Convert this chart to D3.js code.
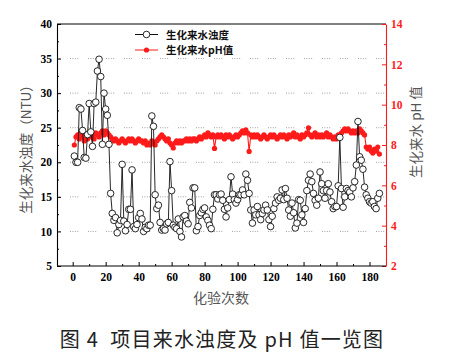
<!DOCTYPE html>
<html><head><meta charset="utf-8">
<script src="https://cdn.jsdelivr.net/npm/d3@7"></script>
<style>
body{margin:0;background:#fff;}
svg{display:block;}
</style></head>
<body>
<svg id="c" width="455" height="356"></svg>
<script>
// ---- data ----
const turbidity = [
 20.9,20.0,20.0,27.9,27.7,24.6,20.7,20.6,24.0,28.5,
 24.4,22.3,28.5,28.7,33.2,34.9,32.4,22.6,30.0,27.7,
 26.8,22.6,15.5,12.6,11.6,12.0,9.8,11.0,11.6,19.7,
 11.5,10.1,11.0,13.2,13.2,18.9,10.7,10.4,11.0,12.0,
 12.6,11.8,10.0,10.6,10.4,10.9,10.9,26.7,25.2,15.3,
 13.3,13.8,11.3,10.2,10.4,10.2,11.1,11.3,20.1,15.9,
 10.9,10.6,10.4,11.8,10.0,9.2,12.1,12.3,11.5,11.1,
 14.2,13.4,16.3,16.3,10.1,10.7,12.3,12.7,13.2,13.4,
 12.1,11.6,10.9,10.4,13.2,15.3,15.3,14.7,15.3,15.4,
 14.5,13.2,12.1,13.4,14.6,17.9,15.4,14.6,14.1,14.6,
 15.3,15.3,16.0,15.3,18.3,17.4,15.5,13.1,11.2,13.1,
 12.4,13.6,12.4,11.7,12.6,13.1,13.8,13.1,11.7,10.7,
 12.2,13.3,14.1,15.0,14.5,14.8,16.0,14.6,16.2,14.8,
 13.1,12.2,14.1,12.7,10.5,11.2,14.6,14.5,12.4,11.3,
 13.3,15.9,17.4,18.3,17.2,15.5,14.5,13.8,14.8,18.6,
 16.9,15.9,14.8,15.9,16.9,15.7,14.3,13.3,13.6,13.6,
 16.6,23.6,16.2,13.5,15.0,16.2,15.9,15.7,15.0,16.3,
 17.2,19.6,25.9,20.8,20.3,19.0,16.4,15.3,14.8,14.3,
 14.1,14.3,13.6,13.3,14.8,15.5
];
const ph = [
 8.0,8.4,8.5,8.3,8.6,8.4,8.2,8.5,8.3,8.6,
 8.4,8.5,8.3,8.6,8.5,8.4,8.6,8.7,8.5,8.7,
 8.6,8.5,8.4,8.3,8.2,8.3,8.2,8.1,8.2,8.3,
 8.2,8.1,8.2,8.3,8.2,8.3,8.2,8.1,8.2,8.3,
 8.2,8.2,8.1,8.2,8.0,8.1,8.0,8.2,8.1,8.0,
 8.2,8.3,8.4,8.5,8.4,8.3,8.2,8.3,8.1,8.0,
 7.85,8.1,8.2,8.1,8.2,8.1,8.2,8.2,8.3,8.2,
 8.3,8.2,8.3,8.3,8.2,8.3,8.4,8.3,8.4,8.5,
 8.4,8.6,8.5,8.4,8.5,7.83,8.4,8.5,8.4,8.5,
 8.4,8.3,8.5,8.4,8.5,8.4,8.3,8.4,8.5,8.4,
 8.5,8.6,8.7,8.6,8.75,8.6,7.68,8.5,8.4,8.5,
 8.4,8.5,8.4,8.3,8.4,8.5,8.4,8.3,8.4,8.5,
 8.4,8.5,8.4,8.3,8.4,8.5,8.4,8.5,8.4,8.3,
 8.5,8.4,8.5,8.6,8.4,8.5,8.4,8.3,8.5,8.4,
 8.5,8.6,8.85,8.5,8.4,8.5,8.6,8.4,8.5,8.4,
 8.5,8.4,8.5,8.6,8.4,8.5,8.4,8.3,8.4,8.3,
 8.5,8.4,8.6,8.7,8.8,8.7,8.8,8.7,8.6,8.7,
 8.6,8.7,8.6,8.8,8.7,8.6,8.5,7.9,7.8,7.9,
 7.7,7.6,7.8,7.7,7.9,7.55
];
const xTicks = [0,20,40,60,80,100,120,140,160,180];
const yLeftTicks = [5,10,15,20,25,30,35,40];
const yRightTicks = [2,4,6,8,10,12,14];
const gridValues = [10,15,20,25,30,35];
const legendLabels = ["生化来水浊度","生化来水pH值"];
const xTitle = "化验次数";
const yLeftTitle = "生化来水浊度（NTU）";
const yRightTitle = "生化来水 pH 值";
const caption = "图 4  项目来水浊度及 pH 值一览图";

// ---- layout ----
const L=57, R=386, T=24, B=266;
const RED="#ff1a1a";
const svg=d3.select("#c");
const x=d3.scaleLinear().domain([-10,190]).range([L-0.8,R]);
const yL=d3.scaleLinear().domain([5,40]).range([B,T]);
const yR=d3.scaleLinear().domain([2,14]).range([B,T]);
const serif="'Liberation Serif','Times New Roman',serif";
const cjk="'Noto Sans CJK SC','Noto Sans',sans-serif";

// grid
svg.append("g").selectAll("line").data(gridValues).join("line")
 .attr("x1",L).attr("x2",R).attr("y1",d=>yL(d)).attr("y2",d=>yL(d))
 .attr("stroke","#8a8a8a").attr("stroke-width",0.8)
 .attr("stroke-dasharray","1,1.4,1,1.4,1,1.4,1,9.8").attr("stroke-dashoffset",5);

// frame top
svg.append("line").attr("x1",L).attr("x2",R).attr("y1",T).attr("y2",T).attr("stroke","#000").attr("stroke-width",1);

// pH series
const lineR=d3.line().x((d,i)=>x(i+1)).y(d=>yR(d));
svg.append("path").datum(ph).attr("d",lineR).attr("fill","none").attr("stroke",RED).attr("stroke-width",1.1);
svg.append("g").selectAll("circle").data(ph).join("circle")
 .attr("cx",(d,i)=>x(i+1)).attr("cy",d=>yR(d)).attr("r",2.6).attr("fill",RED);

// turbidity series
const lineL=d3.line().x((d,i)=>x(i+1)).y(d=>yL(d));
svg.append("path").datum(turbidity).attr("d",lineL).attr("fill","none").attr("stroke","#111").attr("stroke-width",0.9);
svg.append("g").selectAll("circle").data(turbidity).join("circle")
 .attr("cx",(d,i)=>x(i+1)).attr("cy",d=>yL(d)).attr("r",3.3)
 .attr("fill","#fff").attr("stroke","#111").attr("stroke-width",0.9);

// axes
function styleAxis(g,color){
  g.attr("font-family",serif);
  g.select(".domain").attr("stroke",color).attr("stroke-width",1.1);
  g.selectAll(".tick line").attr("stroke",color);
  g.selectAll("text").attr("fill",color).attr("font-family",serif).attr("font-weight","bold").attr("font-size",11.5);
}
const axL=svg.append("g").attr("transform",`translate(${L},0)`)
 .call(d3.axisLeft(yL).tickValues(yLeftTicks).tickSize(-4).tickPadding(5).tickSizeOuter(0));
styleAxis(axL,"#000");
const axLm=svg.append("g").attr("transform",`translate(${L},0)`)
 .call(d3.axisLeft(yL).tickValues(yLeftTicks.slice(0,-1).map(d=>d+2.5)).tickSize(-2).tickFormat("").tickSizeOuter(0));
axLm.select(".domain").remove();

const axR=svg.append("g").attr("transform",`translate(${R},0)`)
 .call(d3.axisRight(yR).tickValues(yRightTicks).tickSize(-4).tickPadding(5).tickSizeOuter(0));
styleAxis(axR,RED);
const axRm=svg.append("g").attr("transform",`translate(${R},0)`)
 .call(d3.axisRight(yR).tickValues(yRightTicks.slice(0,-1).map(d=>d+1)).tickSize(-2).tickFormat("").tickSizeOuter(0));
axRm.select(".domain").remove(); axRm.selectAll("line").attr("stroke",RED);

const axB=svg.append("g").attr("transform",`translate(0,${B})`)
 .call(d3.axisBottom(x).tickValues(xTicks).tickSize(-4).tickPadding(7).tickSizeOuter(0));
styleAxis(axB,"#000");
axB.select(".domain").attr("d",`M${L},0H${R}`);
const axBm=svg.append("g").attr("transform",`translate(0,${B})`)
 .call(d3.axisBottom(x).tickValues(xTicks.map(d=>d+10).filter(d=>d<190)).tickSize(-2).tickFormat("").tickSizeOuter(0));
axBm.select(".domain").remove();

// legend
const lg=svg.append("g");
lg.append("line").attr("x1",135).attr("x2",158).attr("y1",34.5).attr("y2",34.5).attr("stroke","#111");
lg.append("circle").attr("cx",146.5).attr("cy",34.5).attr("r",3.3).attr("fill","#fff").attr("stroke","#111").attr("stroke-width",0.9);
lg.append("line").attr("x1",135).attr("x2",158).attr("y1",50).attr("y2",50).attr("stroke",RED);
lg.append("circle").attr("cx",146.5).attr("cy",50).attr("r",2.6).attr("fill",RED);
lg.selectAll("text").data(legendLabels).join("text")
 .attr("x",166).attr("y",(d,i)=>i?54:38.5).text(d=>d)
 .attr("font-family",cjk).attr("font-weight","bold").attr("font-size",10.5).attr("fill","#111");

// titles
svg.append("text").attr("transform","translate(31,146) rotate(-90)").attr("text-anchor","middle")
 .attr("font-family",cjk).attr("font-size",13.5).attr("fill","#555").text(yLeftTitle);
svg.append("text").attr("transform","translate(421,132) rotate(-90)").attr("text-anchor","middle")
 .attr("font-family",cjk).attr("font-size",13.5).attr("fill","#555").text(yRightTitle);
svg.append("text").attr("x",221).attr("y",303).attr("text-anchor","middle")
 .attr("font-family",cjk).attr("font-size",14).attr("fill","#555").text(xTitle);
svg.append("text").attr("x",222).attr("y",347).attr("text-anchor","middle")
 .attr("font-family",cjk).attr("font-size",20).attr("letter-spacing",1.2).attr("fill","#222")
 .style("white-space","pre").text(caption);
</script>
</body></html>
